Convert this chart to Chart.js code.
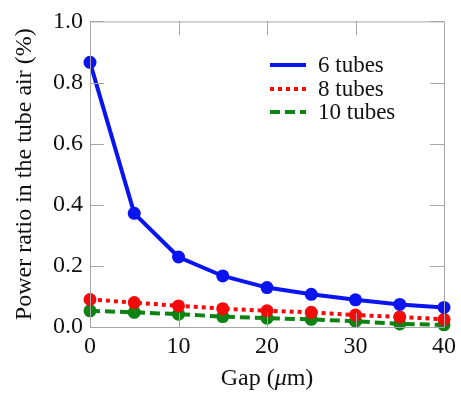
<!DOCTYPE html>
<html>
<head>
<meta charset="utf-8">
<script src="https://cdn.jsdelivr.net/npm/chart.js@4.4.1/dist/chart.umd.min.js"></script>
<style>
  html, body { margin: 0; padding: 0; background: #fff; }
  canvas { display: block; }
</style>
</head>
<body>
<canvas id="gapChart" width="461" height="393"></canvas>
<script>
const gaps = [0, 5, 10, 15, 20, 25, 30, 35, 40];
const tubes6 = [0.866, 0.372, 0.229, 0.167, 0.129, 0.107, 0.089, 0.074, 0.064];
const tubes8 = [0.090, 0.080, 0.069, 0.060, 0.053, 0.048, 0.039, 0.033, 0.025];
const tubes10 = [0.053, 0.048, 0.042, 0.034, 0.029, 0.025, 0.019, 0.010, 0.007];
const seriesNames = ['6 tubes', '8 tubes', '10 tubes'];
const xTicks = [0, 10, 20, 30, 40];
const yTicks = [0.0, 0.2, 0.4, 0.6, 0.8, 1.0];

const serif = "'Liberation Serif', 'Times New Roman', serif";
const frameColor = '#a6a6a6';

Chart.defaults.font.family = serif;
Chart.defaults.color = '#111';

function toPoints(values) {
    return values.map((v, i) => ({x: gaps[i], y: v}));
}

// рамка сверху/справа и внутренние засечки
const framePlugin = {
    id: 'framePlugin',
    afterDraw(chart) {
        const {ctx, chartArea, scales} = chart;
        const len = 14;
        ctx.save();
        ctx.strokeStyle = frameColor;
        ctx.lineWidth = 1;
        ctx.beginPath();
        ctx.rect(chartArea.left + 0.5, chartArea.top + 0.5, chartArea.right - chartArea.left, chartArea.bottom - chartArea.top);
        xTicks.forEach(t => {
            const x = Math.round(scales.x.getPixelForValue(t)) + 0.5;
            ctx.moveTo(x, chartArea.bottom);
            ctx.lineTo(x, chartArea.bottom - len);
            ctx.moveTo(x, chartArea.top);
            ctx.lineTo(x, chartArea.top + len);
        });
        yTicks.forEach(t => {
            const y = Math.round(scales.y.getPixelForValue(t)) + 0.5;
            ctx.moveTo(chartArea.left, y);
            ctx.lineTo(chartArea.left + len, y);
            ctx.moveTo(chartArea.right, y);
            ctx.lineTo(chartArea.right - len, y);
        });
        ctx.stroke();
        ctx.restore();
    }
};

// легенда внутри области графика
const insideLegend = {
    id: 'insideLegend',
    afterDraw(chart) {
        const {ctx} = chart;
        const x0 = 270, x1 = 306, rows = [65, 89, 112];
        ctx.save();
        chart.data.datasets.forEach((ds, i) => {
            ctx.beginPath();
            ctx.setLineDash(ds.borderDash || []);
            ctx.strokeStyle = ds.borderColor;
            ctx.lineWidth = ds.borderWidth;
            ctx.moveTo(x0, rows[i]);
            ctx.lineTo(x1, rows[i]);
            ctx.stroke();
            ctx.setLineDash([]);
            ctx.fillStyle = '#111';
            ctx.font = '23px ' + serif;
            ctx.textBaseline = 'middle';
            ctx.fillText(ds.label, 318, rows[i] + 1);
        });
        ctx.restore();
    }
};

// подпись оси X с курсивной μ
const xTitle = {
    id: 'xTitle',
    afterDraw(chart) {
        const {ctx, chartArea} = chart;
        const parts = [['Gap (', '24px '], ['\u03bc', 'italic 24px '], ['m)', '24px ']];
        ctx.save();
        ctx.fillStyle = '#111';
        ctx.textBaseline = 'alphabetic';
        let total = 0;
        parts.forEach(p => { ctx.font = p[1] + serif; total += ctx.measureText(p[0]).width; });
        let x = (chartArea.left + chartArea.right) / 2 - total / 2;
        parts.forEach(p => {
            ctx.font = p[1] + serif;
            ctx.fillText(p[0], x, 385);
            x += ctx.measureText(p[0]).width;
        });
        ctx.restore();
    }
};

const ctx = document.getElementById('gapChart').getContext('2d');
const chart = new Chart(ctx, {
    type: 'line',
    data: {
        datasets: [{
            label: seriesNames[0],
            data: toPoints(tubes6),
            borderColor: '#0a14f0',
            backgroundColor: '#0a14f0',
            borderWidth: 4,
            pointRadius: 6.5,
            pointBorderWidth: 0,
            clip: false
        }, {
            label: seriesNames[1],
            data: toPoints(tubes8),
            borderColor: '#f50a0a',
            backgroundColor: '#f50a0a',
            borderWidth: 4,
            borderDash: [4, 4],
            pointRadius: 6.5,
            pointBorderWidth: 0,
            clip: false
        }, {
            label: seriesNames[2],
            data: toPoints(tubes10),
            borderColor: '#0f8214',
            backgroundColor: '#0f8214',
            borderWidth: 4,
            borderDash: [10, 5],
            pointRadius: 6.5,
            pointBorderWidth: 0,
            clip: false
        }]
    },
    options: {
        responsive: false,
        animation: false,
        layout: { padding: { left: 0, top: 15, right: 10, bottom: 0 } },
        plugins: {
            legend: { display: false },
            tooltip: { enabled: false }
        },
        scales: {
            x: {
                type: 'linear',
                min: 0,
                max: 40,
                afterBuildTicks(scale) { scale.ticks = xTicks.map(v => ({value: v})); },
                afterFit(scale) { scale.height = 66; },
                grid: { display: false, drawTicks: false },
                border: { display: false },
                ticks: {
                    color: '#111',
                    padding: 5,
                    font: { family: serif, size: 24 }
                }
            },
            y: {
                min: 0,
                max: 1,
                afterBuildTicks(scale) { scale.ticks = yTicks.map(v => ({value: v})); },
                afterFit(scale) { scale.width = 90; },
                grid: { display: false, drawTicks: false },
                border: { display: false },
                ticks: {
                    color: '#111',
                    padding: 7,
                    font: { family: serif, size: 24 },
                    callback: v => v.toFixed(1)
                },
                title: {
                    display: true,
                    text: 'Power ratio in the tube air (%)',
                    color: '#111',
                    padding: { top: 10, bottom: 0 },
                    font: { family: serif, size: 24 }
                }
            }
        }
    },
    plugins: [framePlugin, insideLegend, xTitle]
});
</script>
</body>
</html>
